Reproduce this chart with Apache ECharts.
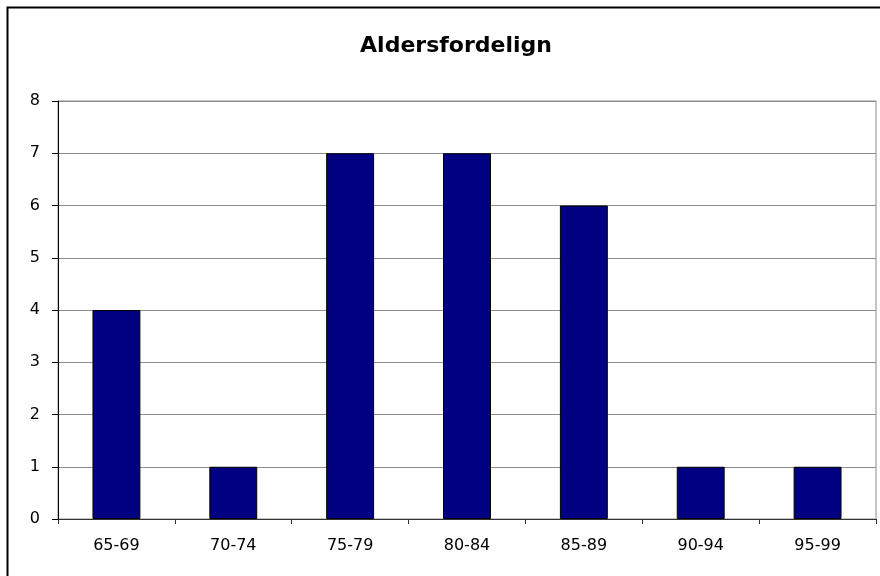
<!DOCTYPE html>
<html>
<head>
<meta charset="utf-8">
<script src="https://cdn.jsdelivr.net/npm/echarts@6/dist/echarts.min.js"></script>
<style>
  html, body { margin: 0; padding: 0; background: #fff; }
  #chart { width: 880px; height: 576px; }
</style>
</head>
<body>
<div id="chart"></div>
<script>
// data
const categories = ['65-69', '70-74', '75-79', '80-84', '85-89', '90-94', '95-99']
const counts = [4, 1, 7, 7, 6, 1, 1]
const titleText = 'Aldersfordelign'

const chart = echarts.init(document.getElementById('chart'))

const option = {
  animation: false,
  textStyle: { fontFamily: 'DejaVu Sans, Arial, sans-serif' },
  title: {
    text: titleText,
    left: 451,
    textAlign: 'center',
    top: 30,
    textStyle: { fontSize: 22, fontWeight: 'bold', color: '#000', fontFamily: 'DejaVu Sans' }
  },
  // outer chart frame (cut off at right and bottom like the original)
  graphic: [{
    type: 'rect',
    shape: { x: 7.5, y: 7.5, width: 890, height: 600 },
    style: { fill: 'none', stroke: '#000', lineWidth: 2 },
    silent: true
  }],
  grid: {
    left: 58, right: 4, top: 101, bottom: 57,
    show: true,
    borderColor: '#8c8c8c',
    borderWidth: 1
  },
  xAxis: {
    type: 'category',
    data: categories,
    axisLine: { lineStyle: { color: '#333', width: 1 } },
    axisTick: { show: true, alignWithLabel: false, length: 5, lineStyle: { color: '#333' } },
    axisLabel: { color: '#000', fontSize: 16, margin: 19 }
  },
  yAxis: {
    type: 'value',
    min: 0, max: 8, interval: 1,
    axisLine: { show: true, lineStyle: { color: '#000', width: 1 } },
    axisTick: { show: true, length: 6, lineStyle: { color: '#000' } },
    axisLabel: { color: '#000', fontSize: 16, margin: 18 },
    splitLine: { lineStyle: { color: '#8c8c8c', width: 1 } }
  },
  series: [{
    type: 'bar',
    data: counts,
    barWidth: '41%',
    itemStyle: { color: '#000080', borderColor: '#000', borderWidth: 1 }
  }]
}

chart.setOption(option)
</script>
</body>
</html>
